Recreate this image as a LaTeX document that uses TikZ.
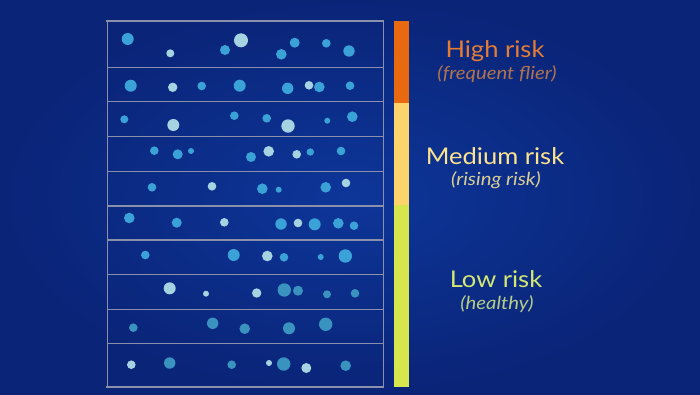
\documentclass[tikz,border=0pt]{standalone}
\usepackage{fontspec}
\setmainfont{Lato}
\usepackage{tikz}
\definecolor{bgDark}{HTML}{0A2478}
\definecolor{bgLight}{HTML}{0D3699}
\definecolor{gridGray}{HTML}{8A90AA}
\definecolor{dotB}{HTML}{3BA2D8}
\definecolor{dotT}{HTML}{3A93BE}
\definecolor{dotL}{HTML}{A6D3E2}
\definecolor{riskHigh}{HTML}{E8690F}
\definecolor{riskMed}{HTML}{FBD46C}
\definecolor{riskLow}{HTML}{D6E64C}
\definecolor{txtHigh}{HTML}{E57C35}
\definecolor{subHigh}{HTML}{B0734F}
\definecolor{txtMed}{HTML}{FCE38E}
\definecolor{subMed}{HTML}{D9CF95}
\definecolor{txtLow}{HTML}{D3E873}
\definecolor{subLow}{HTML}{B6CC86}

\begin{document}
\begin{tikzpicture}[x=1pt, y=-1pt,
    title/.style={font=\fontsize{23}{26}\selectfont\addfontfeatures{FakeStretch=1.11}},
    subtitle/.style={font=\fontsize{18}{21}\selectfont\itshape\addfontfeatures{FakeStretch=1.13}},
    gridline/.style={gridGray, line width=1.4pt}]
  \useasboundingbox (0,0) rectangle (700,394);
  \shade[inner color=bgLight, outer color=bgDark] (0,0) rectangle (700,394);

  % Frame and row separators
  \draw[gridGray, line width=1pt] (107,21) -- (107,387);
  \draw[gridGray, line width=1pt] (383,21) -- (383,387);
  \draw[gridGray, line width=2.4pt] (106,21) -- (384,21);
  \draw[gridGray, line width=2.4pt] (106,387) -- (384,387);
  \foreach \y in {67.7,101.7,136.5,171.7,206,240,274.3,309.3,343.3}{
    \draw[gridline] (107,\y) -- (383,\y);
  }

  % Rows 1-3
  \foreach \x/\y/\r/\c in {127.7/39/6/dotB, 170.3/53.3/4/dotL, 225/50/5/dotB,
      241/40.3/7/dotL, 281.3/54.3/5.3/dotB, 294.7/42.7/5/dotB, 326.3/43.3/4.3/dotB,
      349/51/5.7/dotB,
      130.7/85.7/6/dotB, 172.7/87.3/4.7/dotL, 201.7/86/4.3/dotB, 239.7/85.7/6/dotB,
      287.7/88.3/5.7/dotB, 309/85.3/4.3/dotL, 319.3/87/5.3/dotB, 350/85.7/4.3/dotB,
      124.3/119.3/4/dotB, 173.3/125/6/dotL, 234.3/115.7/4.3/dotB, 266.7/118.3/4.3/dotB,
      288/126/6.7/dotL, 327.3/120.7/3/dotB, 352.3/116.7/5.3/dotB}{
    \fill[\c] (\x,\y) circle (\r pt);
  }
  % Rows 4-6
  \foreach \x/\y/\r/\c in {154.3/150.7/4.3/dotB, 177.7/154.3/5/dotB, 191/151/3/dotB,
      251/157/5/dotB, 268.7/151.3/5.3/dotL, 296.7/154.3/4.3/dotL, 310.3/152/3.7/dotB,
      341/151/4.3/dotB,
      152/187.3/4.3/dotB, 212/186.3/4.3/dotL, 262.3/188.7/5.3/dotB, 278.7/189.7/3/dotB,
      325.7/187.3/5.3/dotB, 346/183/4.3/dotL,
      129.3/218/5.3/dotB, 176.7/222.7/5/dotB, 224.3/222.3/4.3/dotL, 281/224/5.7/dotB,
      298/223/4.3/dotL, 314.7/224.3/6/dotB, 338.3/223.3/5.3/dotB, 354/225.7/4.3/dotB}{
    \fill[\c] (\x,\y) circle (\r pt);
  }
  % Rows 7-10
  \foreach \x/\y/\r/\c in {145.3/255/4.3/dotB, 233.7/255/6/dotB, 267.3/256/5.3/dotL,
      284/257.3/4.3/dotB, 320.7/257/3/dotB, 345.3/256/6.7/dotB,
      169.7/288.3/6/dotL, 206/293.7/3/dotL, 256.7/293/4.7/dotL, 284.3/290/6.7/dotT,
      298/290.7/5/dotT, 327/294.3/4/dotT, 355/293.3/4.3/dotT,
      133.3/327.7/4.3/dotT, 212.7/323.3/5.7/dotT, 244.7/328.7/5.3/dotT,
      289/328.3/6/dotT, 325.7/324.3/6.7/dotT,
      131.3/364.7/4.3/dotL, 169.7/363/5.7/dotT, 231.7/364.7/4.3/dotT, 269/363/3/dotL,
      283.7/364/6.7/dotT, 306.3/368/5/dotL, 345.7/365.7/5.3/dotT}{
    \fill[\c] (\x,\y) circle (\r pt);
  }

  % Risk bar
  \fill[riskHigh] (393.5,21) rectangle (408.5,103.3);
  \fill[riskMed] (393.5,103.3) rectangle (408.5,205);
  \fill[riskLow] (393.5,205) rectangle (408.5,386.7);

  % Labels
  \node[title, text=txtHigh] (high) at (495,51) {High risk};
  \node[subtitle, text=subHigh] (highsub) at (497,74) {(frequent flier)};
  \node[title, text=txtMed] (med) at (495,156) {Medium risk};
  \node[subtitle, text=subMed] (medsub) at (496,180) {(rising risk)};
  \node[title, text=txtLow] (low) at (496,279) {Low risk};
  \node[subtitle, text=subLow] (lowsub) at (497,304) {(healthy)};
\end{tikzpicture}
\end{document}
